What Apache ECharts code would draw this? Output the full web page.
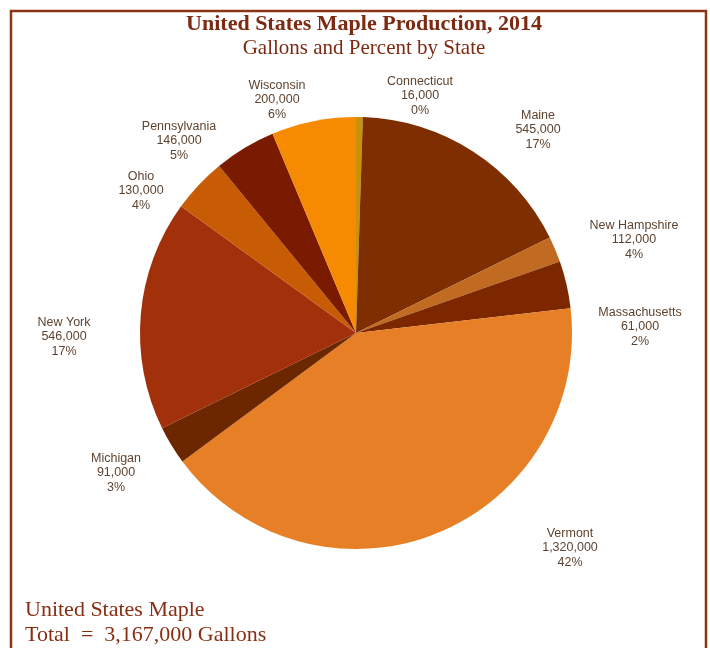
<!DOCTYPE html>
<html>
<head>
<meta charset="utf-8">
<title>United States Maple Production, 2014</title>
<script src="https://cdn.jsdelivr.net/npm/echarts@6/dist/echarts.min.js"></script>
<style>
  html, body { margin: 0; padding: 0; background: #fff; }
  #pie { width: 710px; height: 648px; }
</style>
</head>
<body>
<div id="pie"></div>
<script>
  // slices in drawing order, clockwise from 12 o'clock
  var states = ['Connecticut', 'Maine', 'Massachusetts', 'New Hampshire', 'Vermont',
                'Michigan', 'New York', 'Ohio', 'Pennsylvania', 'Wisconsin'];
  var gallons = [16000, 545000, 61000, 112000, 1320000, 91000, 546000, 130000, 146000, 200000];
  var sliceColors = ['#c8920a', '#7f2e02', '#c06a22', '#7c2700', '#e67f25',
                     '#6c2600', '#a2300a', '#c85c04', '#7a1a00', '#f68b02'];

  // where each label sits on the page (label centre)
  var labelSpots = {
    'Connecticut': [420, 96],
    'Maine': [538, 130],
    'New Hampshire': [634, 240],
    'Massachusetts': [640, 327],
    'Vermont': [570, 548],
    'Michigan': [116, 473],
    'New York': [64, 337],
    'Ohio': [141, 191],
    'Pennsylvania': [179, 141],
    'Wisconsin': [277, 100]
  };

  function commas(n) {
    return String(n).replace(/\B(?=(\d{3})+(?!\d))/g, ',');
  }

  var total = gallons.reduce(function (a, b) { return a + b; }, 0);
  var red = '#7d2a12';

  var chart = echarts.init(document.getElementById('pie'));
  chart.setOption({
    animation: false,
    backgroundColor: '#fff',
    title: {
      text: 'United States Maple Production, 2014',
      subtext: 'Gallons and Percent by State',
      left: 359,
      textAlign: 'center',
      top: 8,
      itemGap: 3,
      textStyle: {
        fontFamily: 'Liberation Serif',
        fontWeight: 'bold',
        fontSize: 22,
        color: red
      },
      subtextStyle: {
        fontFamily: 'Liberation Serif',
        fontSize: 21,
        color: red
      }
    },
    graphic: [
      {
        type: 'rect',
        shape: { x: 11, y: 11, width: 695, height: 680 },
        style: { fill: 'none', stroke: '#8a3516', lineWidth: 2.5 },
        silent: true
      },
      {
        type: 'text',
        left: 25,
        top: 598,
        style: {
          text: 'United States Maple\nTotal  =  ' + commas(total) + ' Gallons',
          font: '22px "Liberation Serif"',
          lineHeight: 25,
          fill: '#8a2e12'
        }
      }
    ],
    series: [{
      type: 'pie',
      center: [356, 333],
      radius: 216,
      startAngle: 90,
      clockwise: true,
      percentPrecision: 0,
      data: states.map(function (s, i) {
        return { name: s, value: gallons[i], itemStyle: { color: sliceColors[i] } };
      }),
      itemStyle: { borderWidth: 0 },
      label: {
        show: true,
        position: 'inside',
        color: '#5e4430',
        fontFamily: 'Liberation Sans',
        fontSize: 12.5,
        lineHeight: 14.5,
        align: 'center',
        formatter: function (p) {
          return p.name + '\n' + commas(p.value) + '\n' + p.percent + '%';
        }
      },
      labelLine: { show: false },
      labelLayout: function (params) {
        var name = states[params.dataIndex];
        var spot = labelSpots[name];
        return { x: spot[0], y: spot[1] };
      },
      emphasis: { disabled: true }
    }]
  });
</script>
</body>
</html>
